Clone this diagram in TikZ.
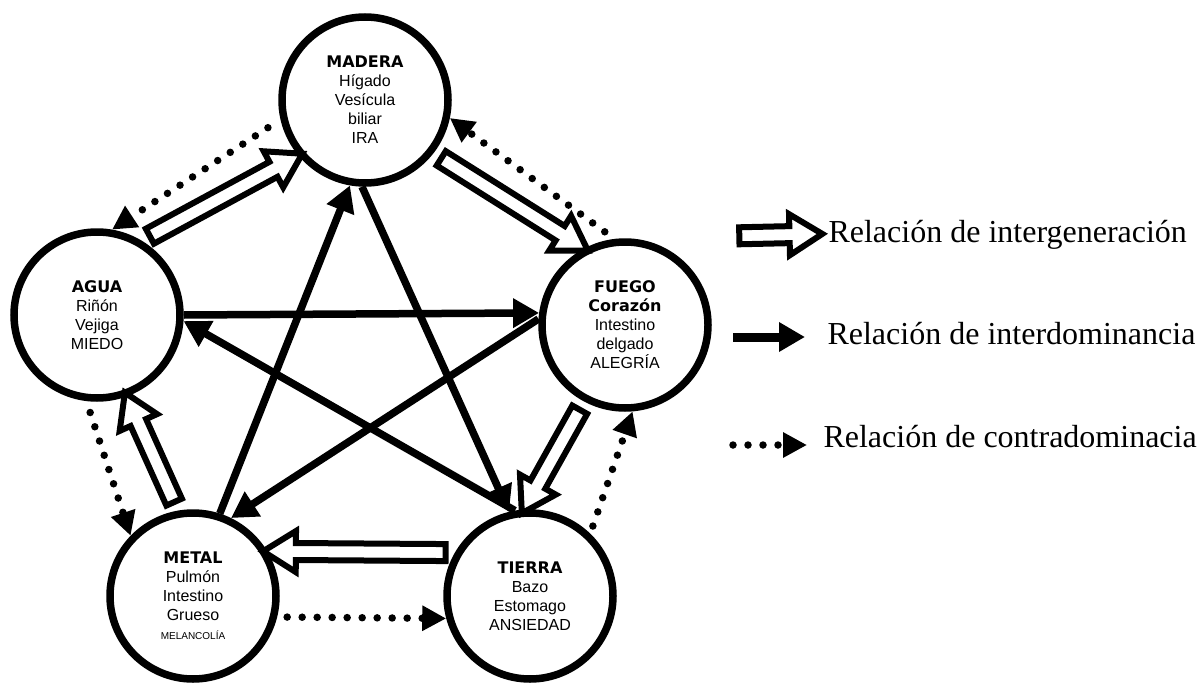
\documentclass[tikz,border=0pt]{standalone}
\usepackage{fontspec}
\setmainfont{Liberation Serif}
\setsansfont{Liberation Sans}
\newfontfamily\negrita{DejaVu Sans}
\usepackage{tikz}
\usetikzlibrary{arrows.meta,calc,shapes.arrows}
\tikzset{
elemento/.style={circle, draw, line width=7.5pt, minimum size=166pt, inner sep=0pt, align=center, font=\sffamily\fontsize{16}{19}\selectfont}, % los cinco elementos
interdom/.style={line width=7.5pt, -{Triangle[length=26pt,width=28pt]}}, % relacion de interdominancia
contradom/.style={line width=7.5pt, line cap=round, dash pattern=on 0pt off 15pt, -{Triangle[length=24pt,width=24pt]}}, % relacion de contradominancia
intergen/.style={single arrow, draw, fill=white, line width=6pt, inner xsep=0pt, inner ysep=5.5pt, single arrow head extend=12pt, single arrow tip angle=64}, % relacion de intergeneracion
leyenda/.style={anchor=base west, font=\fontsize{32}{38}\selectfont}, % textos de la leyenda
}
% nombre del elemento, en negrita
\newcommand{\tit}[1]{{\negrita\bfseries\fontsize{16}{19}\selectfont #1}}
% flecha hueca entre dos puntos
\newcommand{\genflecha}[2]{%
  \path let \p1=($(#2)-(#1)$), \n1={atan2(\y1,\x1)}, \n2={veclen(\x1,\y1)} in
    node[intergen, rotate=\n1, minimum height=\n2-5pt] at ($(#1)!0.5!(#2)$) {};}

\begin{document}
\begin{tikzpicture}[x=1pt,y=-1pt]
		\useasboundingbox (0,0) rectangle (1202,685);
		\node[elemento] (madera) at (365,100) {\tit{MADERA}\\Hígado\\Vesícula\\biliar\\IRA};
		\node[elemento] (agua) at (97,315) {\tit{AGUA}\\Riñón\\Vejiga\\MIEDO};
		\node[elemento] (fuego) at (625,325) {\tit{FUEGO}\\\tit{Corazón}\\Intestino\\delgado\\ALEGRÍA};
		\node[elemento] (metal) at (193,596) {\tit{METAL}\\Pulmón\\Intestino\\Grueso\\{\fontsize{10}{12}\selectfont MELANCOLÍA}};
		\node[elemento] (tierra) at (530,596) {\tit{TIERRA}\\Bazo\\Estomago\\ANSIEDAD};
		% interdominancia
		\draw[interdom] (agua.0) -- (fuego.172);
		\draw[interdom] (fuego.176) -- (metal.64);
		\draw[interdom] (metal.72) -- (madera.260);
		\draw[interdom] (madera.268) -- (tierra.104);
		\draw[interdom] (tierra.100) -- (agua.-4);
		% contradominancia
		\draw[contradom, shorten <=15pt] (madera.193) -- (agua.80);
		\draw[contradom, shorten <=12pt] (fuego.97) -- (madera.-12);
		\draw[contradom, shorten <=8pt] (tierra.46) -- (fuego.-85);
		\draw[contradom, shorten <=12pt] (agua.-97) -- (metal.136);
		\draw[contradom, shorten <=10pt] (metal.-14) -- (tierra.195);
		% intergeneracion
		\genflecha{agua.59}{madera.220}
		\genflecha{madera.-38}{fuego.118}
		\genflecha{fuego.-118}{tierra.94}
		\genflecha{tierra.150}{metal.31}
		\genflecha{metal.100}{agua.-70}
		% leyenda
		\coordinate (g1) at (730,236);
		\coordinate (g2) at (818,234);
		\coordinate (d1) at (733,337);
		\coordinate (d2) at (805,337);
		\coordinate (c1) at (733,445);
		\coordinate (c2) at (807,445);
		\genflecha{g1}{g2}
		\draw[interdom, line width=9pt] (d1) -- (d2);
		\draw[contradom] (c1) -- (c2);
		\node[leyenda] (lg) at (825,242) {Relación de intergeneración};
		\node[leyenda] (ld) at (824,344) {Relación de interdominancia};
		\node[leyenda] (lc) at (820,447) {Relación de contradominacia};
	\end{tikzpicture}
\end{document}
